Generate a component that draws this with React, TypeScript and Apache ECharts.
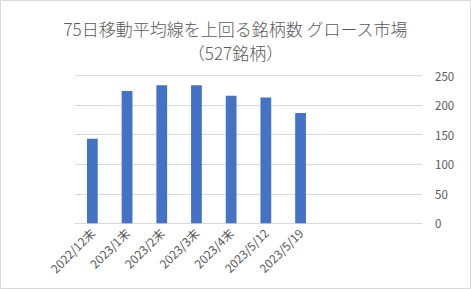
import React, { useEffect, useRef } from "react";
import * as echarts from "echarts";

const categories = ["2022/12末", "2023/1末", "2023/2末", "2023/3末", "2023/4末", "2023/5/12", "2023/5/19", "", "", ""];
const values: (number | null)[] = [143, 224, 234, 234, 216, 213, 187, null, null, null];
const titleLine1 = "75日移動平均線を上回る銘柄数 グロース市場";
const titleLine2 = "（527銘柄）";

const FONT = "'Noto Sans CJK JP', 'Noto Sans', sans-serif";

export default function App() {
  const ref = useRef<HTMLDivElement>(null);
  useEffect(() => {
    if (!ref.current) return;
    const chart = echarts.init(ref.current, null, { renderer: "svg" });
    chart.setOption({
      animation: false,
      backgroundColor: "#ffffff",
      graphic: [
        {
          type: "rect",
          shape: { x: 0.5, y: 0.5, width: 470, height: 288 },
          style: { fill: "none", stroke: "#D9D9D9", lineWidth: 1 },
          silent: true,
        },
      ],
      title: {
        text: titleLine1 + "\n" + titleLine2,
        left: "center",
        top: 11,
        textStyle: { fontFamily: FONT, fontSize: 17, fontWeight: 300, color: "#595959", lineHeight: 24 },
      },
      grid: { left: 75, right: 49, top: 75.7, bottom: 289 - 223.3, containLabel: false },
      xAxis: {
        type: "category",
        data: categories,
        axisLine: { show: true, lineStyle: { color: "#D9D9D9", width: 1 } },
        axisTick: { show: false },
        axisLabel: { rotate: 45, fontFamily: FONT, fontSize: 12, color: "#595959", interval: 0, margin: 7 },
      },
      yAxis: {
        type: "value",
        position: "right",
        min: 0,
        max: 250,
        interval: 50,
        axisLine: { show: false },
        axisTick: { show: false },
        splitLine: { lineStyle: { color: "#D9D9D9", width: 1 } },
        axisLabel: { fontFamily: FONT, fontSize: 11.5, color: "#595959", margin: 13, align: "left" },
      },
      series: [
        {
          type: "bar",
          data: values,
          barWidth: "31%",
          itemStyle: { color: "#4472C4" },
        },
      ],
    });
    return () => chart.dispose();
  }, []);
  return (
    <div style={{ position: "absolute", left: 0, top: 0 }}>
      <div ref={ref} style={{ width: 471, height: 289 }} />
    </div>
  );
}
